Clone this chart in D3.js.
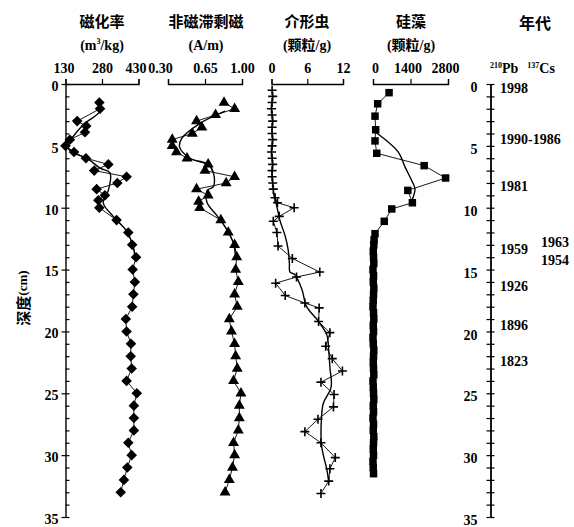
<!DOCTYPE html>
<html>
<head>
<meta charset="utf-8">
<script src="https://cdn.jsdelivr.net/npm/d3@7"></script>
<style>
  body { margin: 0; background: #fff; }
  svg { display: block; }
  .num { font-family: "Liberation Serif", "Times New Roman", serif; font-weight: bold; font-size: 14px; fill: #000; }
  .cjk { font-family: "Noto Sans CJK SC", sans-serif; font-weight: bold; font-size: 15px; fill: #000; }
</style>
</head>
<body>
<svg id="chart" width="574" height="527"></svg>
<script>
// 磁化率
const magTicks = [130, 280, 430];
const magDepth = [1.5, 2, 3, 3.4, 3.9, 4.5, 5, 5.5, 6, 6.5, 7, 7.5, 8, 8.5, 9, 9.4, 10, 11, 12, 13, 14, 15, 16, 17, 18, 19, 20, 21, 22, 23, 24, 25, 26, 27, 28, 29, 30, 31, 32, 33];
const magValue = [269, 272, 178, 215, 210, 148, 130, 165, 214, 306, 248, 381, 343, 258, 292, 265, 269, 340, 388, 404, 420, 406, 415, 409, 404, 378, 381, 399, 398, 402, 381, 423, 411, 411, 411, 388, 402, 384, 370, 357];
const magTrendDepth = [1.7, 2.2, 3.3, 4.4, 4.9, 5.5, 6.0, 6.8, 7.2, 8.6, 9.6, 10.7, 11.9, 13.2, 14.2];
const magTrendValue = [272, 272, 203, 155, 135, 155, 217, 272, 313, 306, 285, 326, 381, 409, 416];

// 非磁滞剩磁
const armTicks = [0.30, 0.65, 1.00];
const armDepth = [1.5, 2, 2.5, 3, 3.5, 4, 4.5, 5, 5.5, 6, 6.5, 7, 7.5, 8, 8.5, 9, 9.5, 10, 11, 12, 13, 14, 15, 16, 17, 18, 19, 20, 21, 22, 23, 24, 25, 26, 27, 28, 29, 30, 31, 32, 33];
const armValue = [0.83, 0.93, 0.75, 0.57, 0.62, 0.53, 0.34, 0.34, 0.38, 0.48, 0.68, 0.65, 0.93, 0.85, 0.57, 0.68, 0.59, 0.60, 0.80, 0.87, 0.93, 0.95, 0.94, 0.965, 0.93, 0.955, 0.88, 0.90, 0.93, 0.94, 0.955, 0.92, 0.99, 0.975, 0.975, 0.965, 0.92, 0.93, 0.91, 0.88, 0.84];
const armTrendDepth = [2.2, 3.2, 4.4, 5.1, 6.0, 6.5, 7.2, 8.3, 8.6, 9.6, 10.6, 11.8, 12.9, 14.2];
const armTrendValue = [0.84, 0.60, 0.43, 0.41, 0.51, 0.68, 0.73, 0.73, 0.67, 0.67, 0.76, 0.86, 0.92, 0.94];

// 介形虫
const ostTicks = [0, 6, 12];
const ostDepth = [0.5, 1, 1.5, 2, 2.5, 3, 3.5, 4, 4.5, 5, 5.5, 6, 6.5, 7, 7.5, 8, 8.5, 9.2, 9.6, 10, 10.7, 11.1, 12, 13.1, 14.1, 15.2, 15.6, 16.1, 17.1, 17.7, 18.1, 19.2, 20.1, 21.2, 22.2, 23.2, 24.1, 25.1, 26.1, 27.1, 28.1, 29, 30.2, 31.1, 32.1, 33.1];
const ostValue = [0.1, 0.2, 0.1, 0, 0.1, 0.2, 0.1, 0.1, 0.2, 0.1, 0, 0.1, 0.2, 0.1, 0.1, 0.2, 0.3, 0.6, 1.0, 3.8, 1.3, 0.3, 0.9, 1.1, 3.5, 8.1, 4.2, 0.7, 2.3, 5.6, 8.0, 7.9, 9.8, 9.1, 10.2, 11.9, 8.3, 10.5, 10.4, 7.8, 5.6, 8.3, 10.7, 9.8, 9.6, 8.3];
const ostTrendDepth = [8.8, 9.9, 11, 12.3, 13.4, 14.5, 15.2, 15.4, 16.6, 18, 19.2, 20.3, 21.5, 22.9, 24.5, 25.8, 26.9, 29.2, 31.2, 32.1];
const ostTrendValue = [0.3, 0.9, 1.4, 2.3, 2.8, 3.0, 3.1, 3.9, 5.1, 5.9, 7.9, 9.3, 9.6, 9.8, 10, 8.7, 8.4, 8.4, 9.3, 9.6];

// 硅藻
const diaTicks = [0, 1400, 2800];
const diaDepth = [0.7, 1.6, 2.6, 3.7, 4.6, 5.6, 6.6, 7.6, 8.6, 9.6, 10.1, 11.1, 12.1, 12.6, 13, 13.5, 14, 14.5, 15, 15.5, 16, 16.5, 17, 17.5, 18, 18.5, 19, 19.5, 20, 20.5, 21, 21.5, 22, 22.5, 23, 23.5, 24, 24.5, 25, 25.5, 26, 26.5, 27, 27.5, 28, 28.5, 29, 29.5, 30, 30.5, 31, 31.5];
const diaValue = [600, 175, 75, 100, 75, 140, 1910, 2710, 1300, 1470, 700, 420, 75, 40, 30, 10, 20, 30, 0, 20, 10, 30, 20, 10, 0, 20, 30, 10, 20, 0, 10, 30, 20, 10, 20, 30, 0, 10, 20, 30, 10, 20, 0, 20, 10, 30, 20, 10, 20, 0, 10, 20];
const diaTrendDepth = [3.9, 5.5, 6.7, 7.8, 8.5, 9.4, 9.6];
const diaTrendValue = [100, 944, 1195, 1444, 1568, 1467, 1467];

// 深度轴与年代
const depthLabels = [0, 5, 10, 15, 20, 25, 30, 35];
const pbYears = ["1998", "1990-1986", "1981", "1959", "1926", "1896", "1823"];
const pbDepth = [0.35, 4.5, 8.3, 13.4, 16.4, 19.5, 22.45];
const csYears = ["1963", "1954"];
const csDepth = [12.8, 14.3];

const svg = d3.select("#chart");
svg.append("rect").attr("width", 574).attr("height", 527).attr("fill", "#fff");

const y = d3.scaleLinear().domain([0, 35]).range([84, 517]);
const minorDepth = d3.range(0, 36, 1);

const panels = [
  { title: "磁化率", unit: ["(m", "3", "/kg)"], cx: 102, ticks: magTicks, fmt: d3.format("d"),
    x: d3.scaleLinear().domain([130, 430]).range([65.5, 138.5]), labelShift: [-2, 0, -3],
    depth: magDepth, value: magValue, tDepth: magTrendDepth, tValue: magTrendValue, mark: "diamond" },
  { title: "非磁滞剩磁", unit: ["(A/m)"], cx: 206, ticks: armTicks, fmt: d3.format(".2f"),
    x: d3.scaleLinear().domain([0.30, 1.00]).range([168, 242]), labelShift: [-8, 0, 0],
    depth: armDepth, value: armValue, tDepth: armTrendDepth, tValue: armTrendValue, mark: "triangle" },
  { title: "介形虫", unit: ["(颗粒/g)"], cx: 307, ticks: ostTicks, fmt: d3.format("d"),
    x: d3.scaleLinear().domain([0, 12]).range([271.5, 343]), labelShift: [0, 0, 0],
    depth: ostDepth, value: ostValue, tDepth: ostTrendDepth, tValue: ostTrendValue, mark: "cross" },
  { title: "硅藻", unit: ["(颗粒/g)"], cx: 411, ticks: diaTicks, fmt: d3.format("d"),
    x: d3.scaleLinear().domain([0, 2800]).range([373, 448]), labelShift: [2, -3, -3],
    depth: diaDepth, value: diaValue, tDepth: diaTrendDepth, tValue: diaTrendValue, mark: "square" }
];

const crossPath = "M-4.5,0H4.5M0,-4.5V4.5";

panels.forEach((p) => {
  // titles
  svg.append("text").attr("class", "cjk").attr("x", p.cx).attr("y", 20)
    .attr("text-anchor", "middle").attr("dominant-baseline", "central").text(p.title);
  const u = svg.append("text").attr("x", p.cx).attr("y", 50)
    .attr("text-anchor", "middle");
  p.unit.forEach((s, i) => {
    const t = u.append("tspan").text(s);
    if (/[颗粒]/.test(s)) {
      t.attr("class", "num");
      t.text("(");
      u.append("tspan").attr("class", "cjk").style("font-size", "14px").text("颗粒");
      u.append("tspan").attr("class", "num").text("/g)");
    } else if (p.unit.length === 3 && i === 1) {
      t.attr("class", "num").style("font-size", "8px").attr("dy", -6);
    } else if (p.unit.length === 3 && i === 2) {
      t.attr("class", "num").attr("dy", 6);
    } else {
      t.attr("class", "num");
    }
  });

  // top axis
  const ax = svg.append("g").attr("transform", "translate(0,84)")
    .call(d3.axisTop(p.x).tickValues(p.ticks).tickFormat(p.fmt)
      .tickSize(5).tickSizeOuter(5).tickPadding(6));
  ax.attr("font-family", null).attr("font-size", null);
  ax.select(".domain").attr("stroke-width", 1.3);
  ax.selectAll(".tick line").attr("stroke-width", 1.2);
  ax.selectAll(".tick text").attr("class", "num").attr("fill", null)
    .attr("dx", (d, i) => p.labelShift[i]);

  const pts = p.depth.map((d, i) => [p.x(p.value[i]), y(d)]);
  const trend = p.tDepth.map((d, i) => [p.x(p.tValue[i]), y(d)]);

  svg.append("path").attr("d", d3.line()(pts))
    .attr("fill", "none").attr("stroke", "#000").attr("stroke-width", 0.9);
  svg.append("path").attr("d", d3.line().curve(d3.curveCatmullRom)(trend))
    .attr("fill", "none").attr("stroke", "#000").attr("stroke-width", 1.4);

  const g = svg.append("g");
  pts.forEach(([px, py]) => {
    if (p.mark === "diamond") {
      g.append("path").attr("d", d3.symbol(d3.symbolSquare, 56)())
        .attr("transform", `translate(${px},${py}) rotate(45)`).attr("fill", "#000");
    } else if (p.mark === "triangle") {
      g.append("path").attr("d", d3.symbol(d3.symbolTriangle, 52)())
        .attr("transform", `translate(${px},${py})`).attr("fill", "#000");
    } else if (p.mark === "square") {
      g.append("path").attr("d", d3.symbol(d3.symbolSquare, 56)())
        .attr("transform", `translate(${px},${py})`).attr("fill", "#000");
    } else {
      g.append("path").attr("d", crossPath)
        .attr("transform", `translate(${px},${py})`)
        .attr("stroke", "#000").attr("stroke-width", 1.6).attr("fill", "none");
    }
  });
});

// depth axis (left)
const leftAx = svg.append("g").attr("transform", "translate(65.5,0)")
  .call(d3.axisLeft(y).tickValues(depthLabels).tickSize(4).tickSizeOuter(0).tickPadding(3));
leftAx.attr("font-family", null).attr("font-size", null);
leftAx.select(".domain").attr("stroke-width", 1.4);
leftAx.selectAll(".tick text").attr("class", "num").attr("fill", null).attr("dy", "0.45em");
svg.append("g").attr("transform", "translate(65.5,0)")
  .call(d3.axisRight(y).tickValues(minorDepth).tickSize(4).tickFormat(""))
  .call((s) => s.select(".domain").remove());

svg.append("text").attr("transform", "translate(22,298) rotate(-90)")
  .attr("text-anchor", "middle").attr("dominant-baseline", "central")
  .call((t) => {
    t.append("tspan").attr("class", "cjk").text("深度");
    t.append("tspan").attr("class", "num").style("font-size", "13px").text("(cm)");
  });

// age axis (right)
const ageX = 490.5;
const rAx = svg.append("g").attr("transform", `translate(${ageX},0)`)
  .call(d3.axisLeft(y).tickValues(minorDepth).tickSize(4).tickSizeOuter(0)
    .tickFormat((d) => depthLabels.includes(d) ? d : "").tickPadding(9));
rAx.attr("font-family", null).attr("font-size", null);
rAx.select(".domain").attr("stroke-width", 1.8);
rAx.selectAll(".tick text").attr("class", "num").attr("fill", null).attr("dy", "0.55em");
svg.append("g").attr("transform", `translate(${ageX},0)`)
  .call(d3.axisRight(y).tickValues(minorDepth).tickSize(4).tickFormat(""))
  .call((s) => s.select(".domain").remove());
svg.selectAll(".tick line").attr("stroke-width", 1.2);

svg.append("g").selectAll("text").data(pbYears).join("text")
  .attr("class", "num").attr("x", 500).attr("y", (d, i) => y(pbDepth[i]))
  .attr("dominant-baseline", "central").text((d) => d);
svg.append("g").selectAll("text").data(csYears).join("text")
  .attr("class", "num").attr("x", 541).attr("y", (d, i) => y(csDepth[i]))
  .attr("dominant-baseline", "central").text((d) => d);

// header of age column
svg.append("text").attr("class", "cjk").attr("x", 535).attr("y", 22)
  .attr("text-anchor", "middle").attr("dominant-baseline", "central").style("font-size", "16px").text("年代");
const hdr = svg.append("text").attr("x", 490).attr("y", 73);
hdr.append("tspan").attr("class", "num").style("font-size", "8px").attr("dy", -5).text("210");
hdr.append("tspan").attr("class", "num").attr("dy", 5).text("Pb");
hdr.append("tspan").attr("class", "num").style("font-size", "8px").attr("dx", 9).attr("dy", -5).text("137");
hdr.append("tspan").attr("class", "num").attr("dy", 5).text("Cs");
</script>
</body>
</html>
